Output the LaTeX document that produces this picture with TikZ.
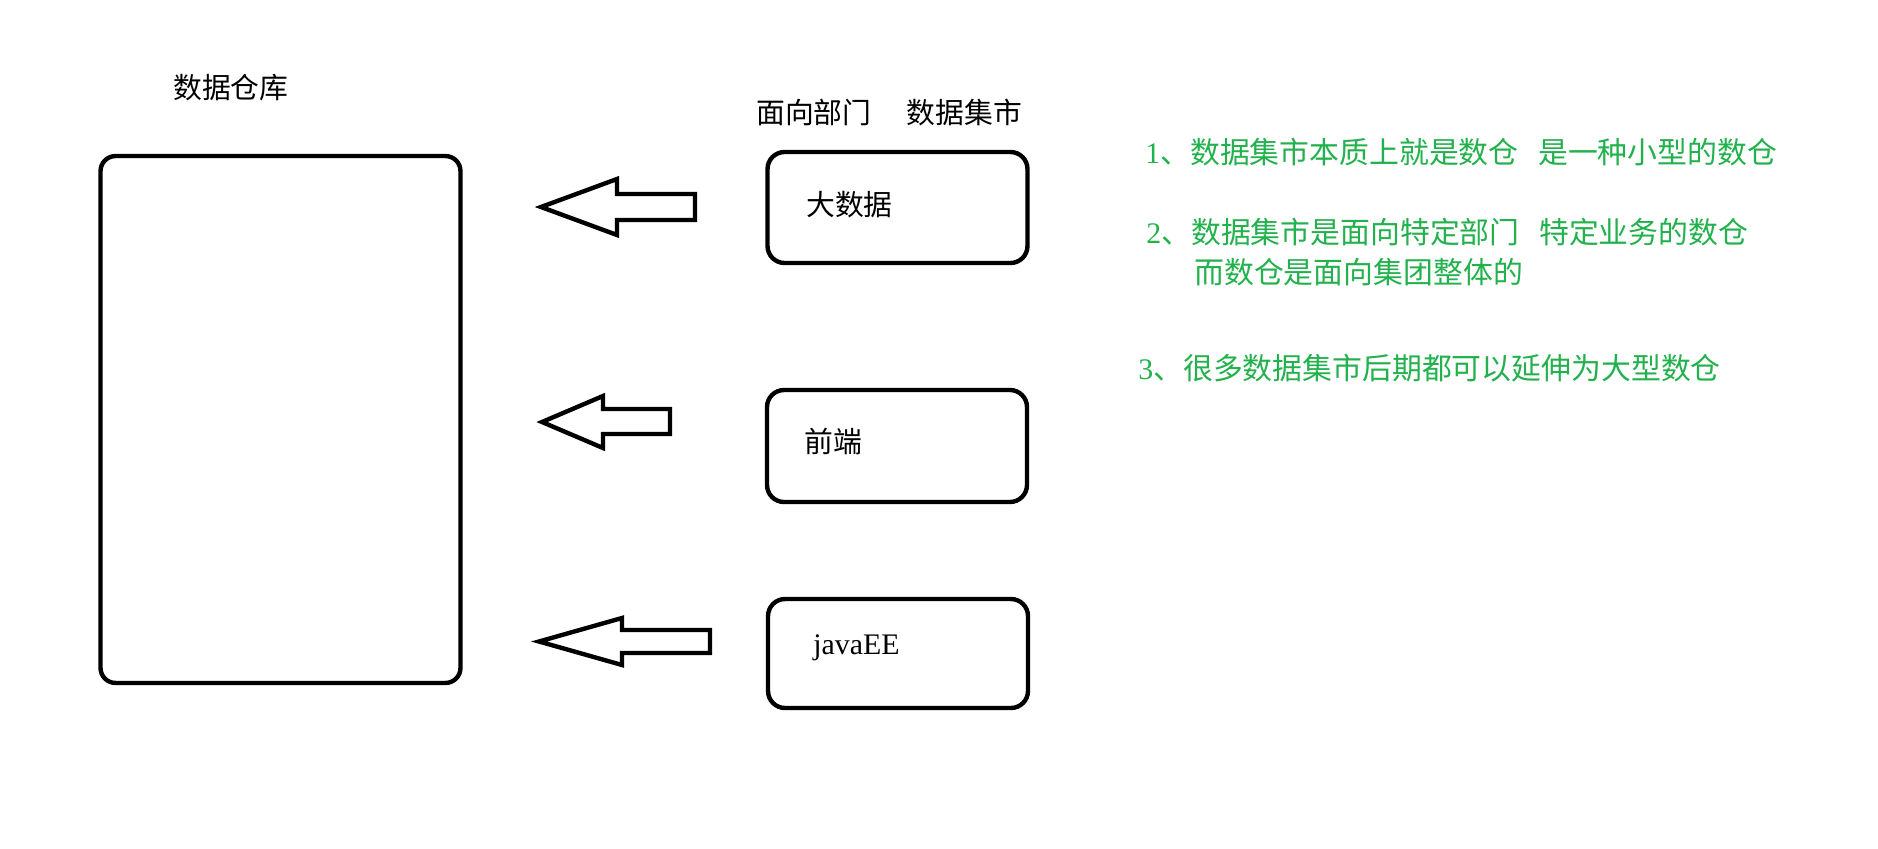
\documentclass[tikz,border=0pt]{standalone}
\usepackage{fontspec}
\setmainfont{Liberation Serif}
\newfontfamily\cjk{Noto Sans CJK SC}
\definecolor{paintgreen}{RGB}{34,177,76}
\begin{document}
\begin{tikzpicture}[x=0.02cm,y=-0.02cm,
  whbox/.style={draw,line width=2.5pt,rounded corners=0.3cm,minimum width=7.2cm,minimum height=10.54cm,inner sep=0pt},
  martbox/.style={draw,line width=2.5pt,rounded corners=0.34cm,minimum width=5.2cm,inner sep=0pt},
  blockarrow/.style={draw,line width=2.5pt,line join=miter,fill=white},
  blacklabel/.style={anchor=west,inner sep=0pt,font=\cjk\fontsize{16.4pt}{19pt}\selectfont},
  latinlabel/.style={anchor=west,inner sep=0pt,font=\fontsize{17pt}{20pt}\selectfont},
  note/.style={anchor=west,inner sep=0pt,text=paintgreen,font=\cjk\fontsize{17pt}{19pt}\selectfont}]
\useasboundingbox (0,0) rectangle (1878,848);
\fill[white] (0,0) rectangle (1878,848);

% data warehouse
\node[whbox] (wh) at (280.5,419.5) {};
\node[blacklabel] (whtitle) at (173,88) {数据仓库};

% data marts
\node[blacklabel] (marttitle) at (756,112) {面向部门\hspace{0.7cm}数据集市};
\node[martbox,minimum height=2.22cm] (m1) at (897.5,207.5) {};
\node[martbox,minimum height=2.24cm] (m2) at (897,446) {};
\node[martbox,minimum height=2.18cm] (m3) at (898,653.5) {};
\node[blacklabel] (t1) at (806,205) {大数据};
\node[blacklabel] (t2) at (804,442) {前端};
\node[latinlabel] (t3) at (813,648) {javaEE};

% block arrows
\draw[blockarrow] (541,207) -- (617,179) -- (617,194) -- (695,194) -- (695,220) -- (617,220) -- (617,235) -- cycle;
\draw[blockarrow] (542,422) -- (603,396) -- (603,409) -- (670,409) -- (670,434) -- (603,434) -- (603,448) -- cycle;
\draw[blockarrow] (539,641.5) -- (622,618) -- (622,630) -- (710,630) -- (710,653) -- (622,653) -- (622,665) -- cycle;

% notes
\node[note] (n1) at (1145,152) {{\rmfamily 1}、数据集市本质上就是数仓\hspace{0.65em}是一种小型的数仓};
\node[note] (n2) at (1146,232) {{\rmfamily 2}、数据集市是面向特定部门\hspace{0.65em}特定业务的数仓};
\node[note] (n2b) at (1194,272) {而数仓是面向集团整体的};
\node[note] (n3) at (1138,368) {{\rmfamily 3}、很多数据集市后期都可以延伸为大型数仓};
\end{tikzpicture}
\end{document}
